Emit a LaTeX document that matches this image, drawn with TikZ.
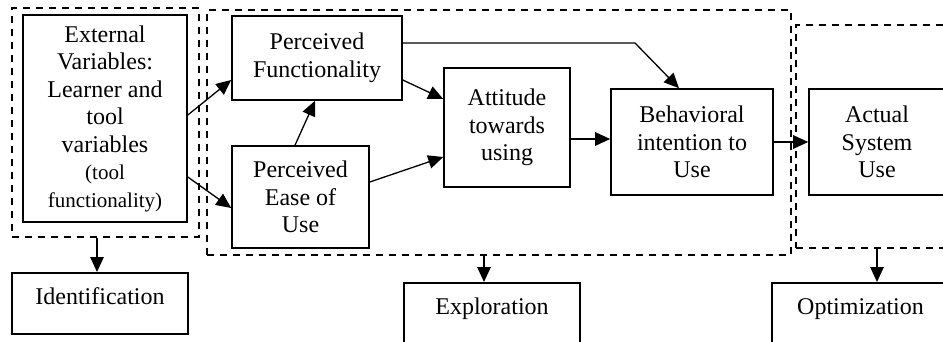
\documentclass[tikz,border=0pt]{standalone}
\usepackage{fontspec}
\setmainfont{Liberation Serif}
\usetikzlibrary{arrows.meta}
\begin{document}
\begin{tikzpicture}[x=1pt,y=-1pt,
  box/.style={draw,line width=1.6pt,align=center,inner sep=0pt,
    font=\fontsize{24pt}{27.5pt}\selectfont},
  dbox/.style={draw,line width=1.5pt,dash pattern=on 7pt off 6pt,inner sep=0pt},
  arr/.style={line width=1.3pt,-{Triangle[length=15pt,width=13.5pt]}}]
\useasboundingbox (0,0) rectangle (943,342);
\clip (0,0) rectangle (943,342);
% dashed groups
\node[dbox,minimum width=187pt,minimum height=229pt] (d1) at (105.5,122.5) {};
\node[dbox,minimum width=584pt,minimum height=245pt] (d2) at (499,132.5) {};
\node[dbox,minimum width=170pt,minimum height=223pt] (d3) at (881,136.5) {};
% boxes
\node[box,minimum width=164pt,minimum height=207pt] (ext) at (105,118.5)
  {External\\Variables:\\Learner and\\tool\\variables\\{\fontsize{21pt}{27.5pt}\selectfont(tool}\\{\fontsize{21pt}{27.5pt}\selectfont functionality)}};
\node[box,minimum width=170pt,minimum height=84pt] (pf) at (317,58) {Perceived\\Functionality};
\node[box,minimum width=137pt,minimum height=102pt] (peu) at (300.5,197) {Perceived\\Ease of\\Use};
\node[box,minimum width=126pt,minimum height=119pt] (att) at (507,127.5) {Attitude\\towards\\using};
\node[box,minimum width=162pt,minimum height=106pt] (bi) at (692,142) {Behavioral\\intention to\\Use};
\node[box,minimum width=136pt,minimum height=106pt] (asu) at (877,142) {Actual\\System\\Use};
\node[box,minimum width=176pt,anchor=north,text height=32pt,text depth=29pt] (ident) at (100,272) {Identification};
\node[box,minimum width=176pt,anchor=north,text height=32pt,text depth=40pt] (expl) at (492,282) {Exploration};
\node[box,minimum width=177pt,anchor=north,text height=32pt,text depth=40pt] (opt) at (860.5,282) {Optimization};
% connectors
\draw[arr] ([yshift=3.5pt]ext.east) -- ([yshift=-22pt]pf.west);
\draw[arr] ([yshift=-58.5pt]ext.east) -- ([yshift=-11pt]peu.west);
\draw[arr] ([xshift=-5.5pt]peu.north) -- ([xshift=-2pt]pf.south);
\draw[arr] ([yshift=-22pt]pf.east) -- ([yshift=28.5pt]att.west);
\draw[arr] ([yshift=15pt]peu.east) -- ([yshift=-29.5pt]att.west);
\draw[arr] ([yshift=-11.5pt]att.east) -- ([yshift=3pt]bi.west);
\coordinate (bend) at (635,43);
\draw[arr] ([yshift=15pt]pf.east) -- (bend) -- ([xshift=-13pt]bi.north);
\draw[arr] (bi.east) -- (asu.west);
\draw[arr] ([xshift=-3pt]ident.north |- d1.south) -- ([xshift=-3pt]ident.north);
\draw[arr] ([xshift=-8pt]expl.north |- d2.south) -- ([xshift=-8pt]expl.north);
\draw[arr] (asu.south |- d3.south) -- (asu.south |- opt.north);
\end{tikzpicture}
\end{document}
